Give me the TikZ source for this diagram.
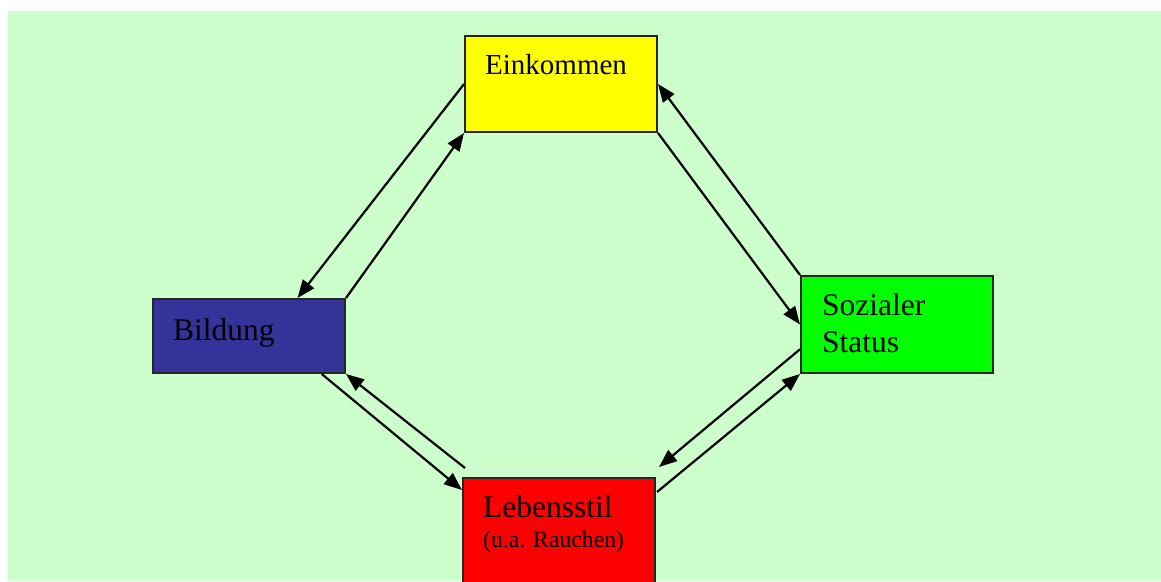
\documentclass[tikz,border=0pt]{standalone}
\usepackage{fontspec}
\setmainfont{Liberation Serif}
\usetikzlibrary{arrows.meta,calc}
\definecolor{bgcol}{HTML}{CCFFCC}
\definecolor{yel}{HTML}{FFFF00}
\definecolor{blu}{HTML}{333399}
\definecolor{grn}{HTML}{00FF00}
\definecolor{rd}{HTML}{FF0000}
\begin{document}
\begin{tikzpicture}[x=1pt,y=-1pt,
  box/.style={draw=black!85, line width=2pt, inner sep=0pt, anchor=north west, minimum width=192pt},
  lbl/.style={anchor=base west, inner sep=0pt, font=\rmfamily\fontsize{31.5}{31.5}\selectfont},
  arr/.style={line width=2.2pt, -{Triangle[length=18pt,width=14pt]}}]
\useasboundingbox (0,0) rectangle (1161,581);
\clip (0,0) rectangle (1161,581);
\fill[white] (0,0) rectangle (1161,581);
\fill[bgcol] (8,11) rectangle (1161,581);
% boxes
\node[box, fill=yel, minimum height=96pt] (ein) at (464,35) {};
\node[box, fill=blu, minimum height=74pt] (bil) at (152,298) {};
\node[box, fill=grn, minimum height=97pt] (soz) at (800,275) {};
\node[box, fill=rd, minimum height=130pt] (leb) at (462,477) {};
% labels
\node[lbl, font=\rmfamily\fontsize{29}{29}\selectfont] (tein) at (485,74) {Einkommen};
\node[lbl] (tbil) at (173,340) {Bildung};
\node[lbl] (tsoza) at (822,315) {Sozialer};
\node[lbl] (tsozb) at (822,352) {Status};
\node[lbl] (tleba) at (483,517) {Lebensstil};
\node[lbl, font=\rmfamily\fontsize{23.7}{23.7}\selectfont] (tlebb) at (483,547) {(u.a. Rauchen)};
% arrows
\draw[arr] (ein.west) -- ($(bil.north)!0.5!(bil.north east)$);
\draw[arr] (bil.north east) -- (ein.south west);
\draw[arr] (ein.south east) -- (soz.west);
\draw[arr] (soz.north west) -- (ein.east);
\draw[arr] ($(soz.west)!0.5!(soz.south west)$) -- ([xshift=3pt,yshift=10pt]leb.north east);
\draw[arr] ([xshift=1pt,yshift=-15pt]leb.north east) -- (soz.south west);
\draw[arr] ($(bil.south)!0.75!(bil.south east)$) -- ([yshift=-13pt]leb.north west);
\draw[arr] ([xshift=3pt,yshift=9pt]leb.north west) -- (bil.south east);
\end{tikzpicture}
\end{document}
